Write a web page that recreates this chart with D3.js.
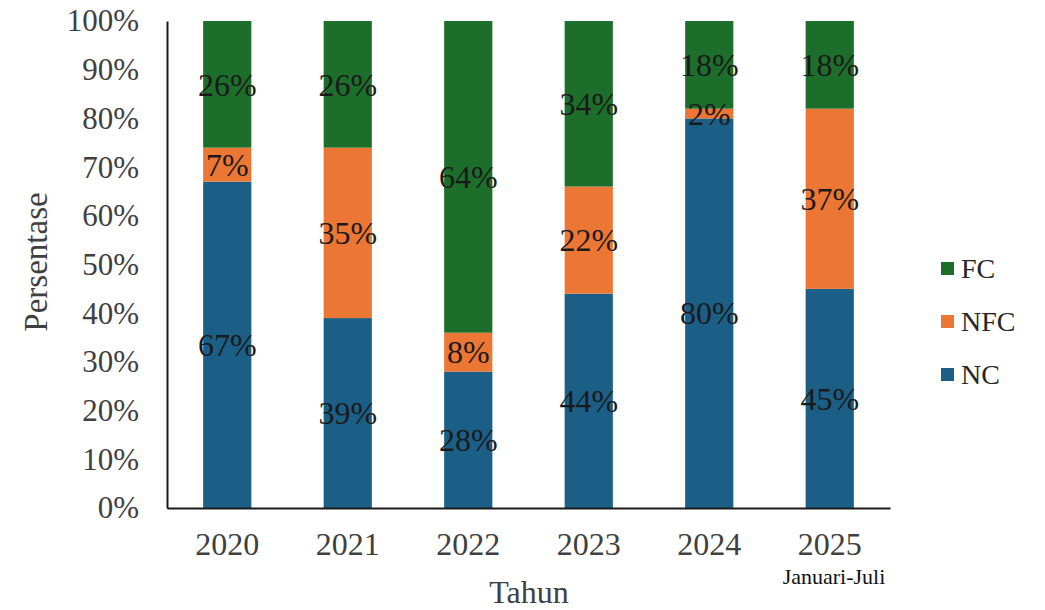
<!DOCTYPE html>
<html>
<head>
<meta charset="utf-8">
<script src="https://cdn.jsdelivr.net/npm/d3@7"></script>
<style>
  html, body { margin: 0; padding: 0; background: #fff; }
  svg { display: block; }
  text { font-family: "Liberation Serif", "Times New Roman", serif; }
</style>
</head>
<body>
<svg id="chart" width="1045" height="610"></svg>
<script>
const years = ["2020", "2021", "2022", "2023", "2024", "2025"];
const seriesNames = ["NC", "NFC", "FC"];
const ncValues  = [67, 39, 28, 44, 80, 45];
const nfcValues = [7, 35, 8, 22, 2, 37];
const fcValues  = [26, 26, 64, 34, 18, 18];
const yTicks = [0, 10, 20, 30, 40, 50, 60, 70, 80, 90, 100];
const legendOrder = ["FC", "NFC", "NC"];

const colors = { NC: "#1b5f87", NFC: "#ec7634", FC: "#1e6e2b" };

const rows = years.map((y, i) => ({ year: y, NC: ncValues[i], NFC: nfcValues[i], FC: fcValues[i] }));

const svg = d3.select("#chart");
const margin = { left: 167, right: 155, top: 21, bottom: 102 };
const W = 1045, H = 610;

const x = d3.scaleBand().domain(years).range([margin.left, W - margin.right])
  .paddingInner(0.6).paddingOuter(0.3);
const y = d3.scaleLinear().domain([0, 100]).range([H - margin.bottom, margin.top]);

const stack = d3.stack().keys(seriesNames)
  .offset(d3.stackOffsetExpand);
const stacked = stack(rows);

// bars
const g = svg.append("g");
stacked.forEach(layer => {
  g.selectAll(null).data(layer).enter().append("rect")
    .attr("x", d => x(d.data.year))
    .attr("width", x.bandwidth())
    .attr("y", d => y(d[1] * 100))
    .attr("height", d => y(d[0] * 100) - y(d[1] * 100))
    .attr("fill", colors[layer.key]);
});

// labels
stacked.forEach(layer => {
  g.selectAll(null).data(layer).enter().append("text")
    .attr("x", d => x(d.data.year) + x.bandwidth() / 2)
    .attr("y", d => y((d[0] + d[1]) / 2 * 100))
    .attr("dy", "0.35em")
    .attr("text-anchor", "middle")
    .attr("font-size", 32)
    .attr("fill", "#1a1a1a")
    .text(d => d.data[layer.key] + "%");
});

// axes
const yAxis = d3.axisLeft(y).tickValues(yTicks).tickSize(0).tickPadding(28)
  .tickFormat(d => d + "%");
const ya = svg.append("g").attr("transform", `translate(${margin.left},0)`).call(yAxis);
ya.select(".domain").attr("stroke", "#1a1a1a").attr("stroke-width", 2);
ya.selectAll("text").attr("font-size", 31).attr("fill", "#404040")
  .attr("font-family", "Liberation Serif, serif");

const xAxis = d3.axisBottom(x).tickSize(0).tickPadding(24);
const xa = svg.append("g").attr("transform", `translate(0,${H - margin.bottom})`).call(xAxis);
xa.select(".domain").attr("stroke", "#1a1a1a").attr("stroke-width", 2);
xa.selectAll("text").attr("font-size", 32).attr("fill", "#404040")
  .attr("font-family", "Liberation Serif, serif");

// axis titles
svg.append("text")
  .attr("transform", "translate(47,262) rotate(-90)")
  .attr("text-anchor", "middle")
  .attr("font-size", 33).attr("fill", "#404040")
  .text("Persentase");
svg.append("text")
  .attr("x", 529).attr("y", 603)
  .attr("text-anchor", "middle")
  .attr("font-size", 32).attr("fill", "#404040")
  .text("Tahun");
svg.append("text")
  .attr("x", 834).attr("y", 584)
  .attr("text-anchor", "middle")
  .attr("font-size", 22).attr("fill", "#111")
  .text("Januari-Juli");

// legend
const lg = svg.append("g");
legendOrder.forEach((k, i) => {
  const cy = 268 + i * 53;
  lg.append("rect").attr("x", 941).attr("y", cy - 6).attr("width", 13).attr("height", 13)
    .attr("fill", colors[k]);
  lg.append("text").attr("x", 961).attr("y", cy).attr("dy", "0.35em")
    .attr("font-size", 28).attr("fill", "#262626").text(k);
});
</script>
</body>
</html>
